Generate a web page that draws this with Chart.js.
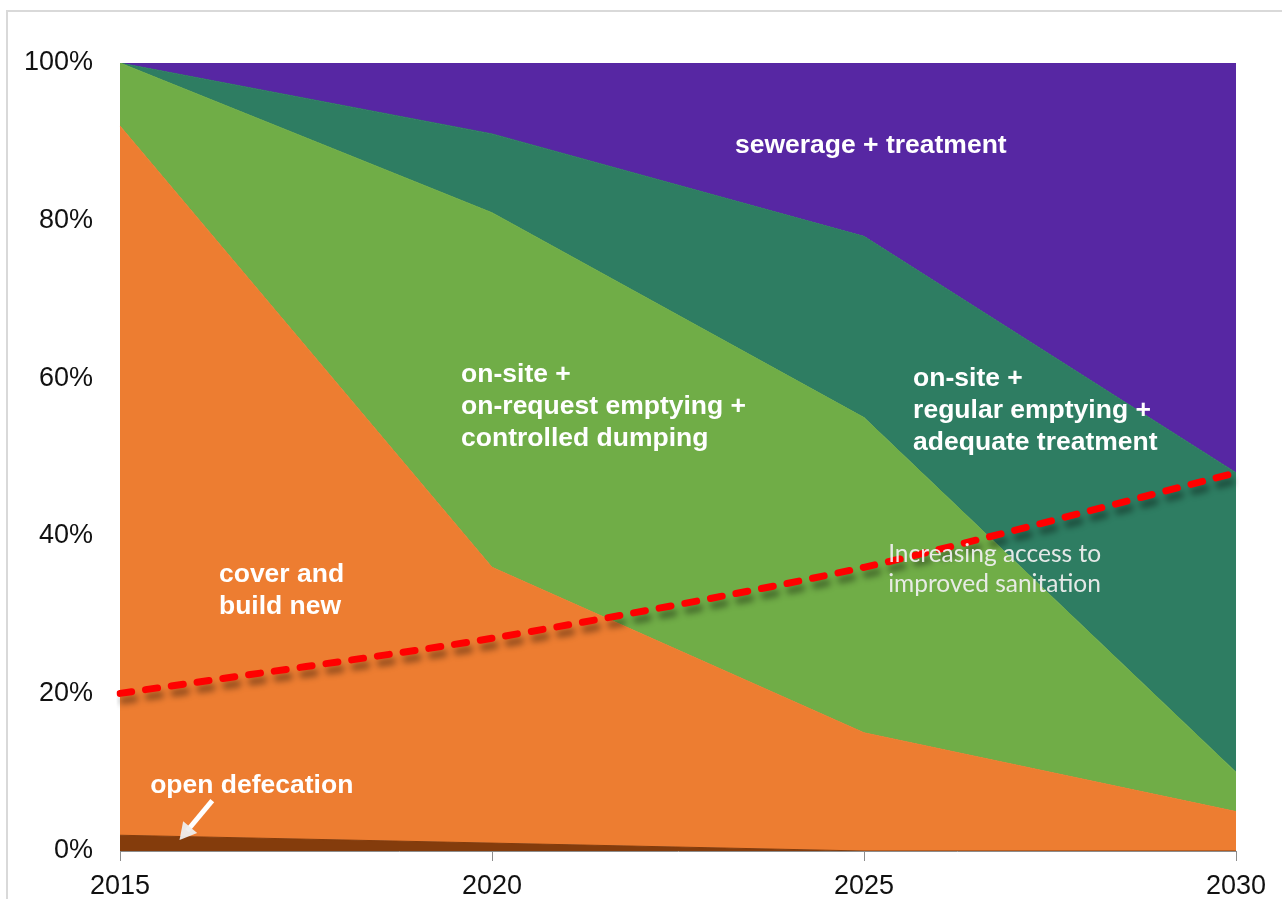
<!DOCTYPE html>
<html>
<head>
<meta charset="utf-8">
<script src="https://cdn.jsdelivr.net/npm/chart.js@4.4.1/dist/chart.umd.min.js"></script>
<style>
  body { margin: 0; background: #fff; overflow: hidden; }
  #wrap { position: relative; width: 1282px; height: 899px; }
  #frame { position: absolute; left: 6px; top: 10px; right: 0; bottom: 0;
           border-top: 2px solid #d9d9d9; border-left: 2px solid #d9d9d9; pointer-events: none; }
</style>
</head>
<body>
<div id="wrap">
  <canvas id="chart" width="1282" height="899"></canvas>
  <div id="frame"></div>
</div>
<script>
// years on the x axis
var years = ["2015", "2020", "2025", "2030"];

// share of each option per year (stacked, in %)
var openDefecation = [2, 1, 0, 0];
var coverBuildNew = [90, 35, 15, 5];
var onRequestEmptying = [8, 45, 40, 5];
var regularEmptying = [0, 10, 23, 38];
var sewerageTreatment = [0, 9, 22, 52];

// improved sanitation access trend (%)
var improvedAccess = [20, 27, 36, 48];

// y axis tick settings
var yTickStep = 20;
var yMax = 100;

// in-chart text, anchored in axis units (x = year index, y = %)
var areaLabels = [
  { lines: ["sewerage + treatment"], x: 1.653, y: 89.5 },
  { lines: ["on-site +", "on-request emptying +", "controlled dumping"], x: 0.917, y: 60.5 },
  { lines: ["on-site +", "regular emptying +", "adequate treatment"], x: 2.132, y: 59.9 },
  { lines: ["cover and", "build new"], x: 0.266, y: 35.1 },
  { lines: ["open defecation"], x: 0.081, y: 8.3 }
];
var trendLabel = { lines: ["Increasing access to", "improved sanitation"], x: 2.065, y: 37.7 };
var arrow = { fromX: 0.248, fromY: 6.4, toX: 0.16, toY: 1.4 };

// red dashed line gets a soft drop shadow
var shadowPlugin = {
  id: "lineShadow",
  beforeDatasetDraw: function (chart, args) {
    if (chart.data.datasets[args.index].stack === "trend") {
      var ctx = chart.ctx;
      ctx.save();
      ctx.shadowColor = "rgba(0,0,0,0.4)";
      ctx.shadowBlur = 6;
      ctx.shadowOffsetX = 3;
      ctx.shadowOffsetY = 7;
    }
  },
  afterDatasetDraw: function (chart, args) {
    if (chart.data.datasets[args.index].stack === "trend") {
      chart.ctx.restore();
    }
  }
};

// white area labels, the trend caption and the arrow
var textPlugin = {
  id: "areaText",
  afterDatasetsDraw: function (chart) {
    var ctx = chart.ctx;
    var xs = chart.scales.x;
    var ys = chart.scales.y;
    ctx.save();
    ctx.textBaseline = "middle";
    ctx.textAlign = "left";
    ctx.fillStyle = "#ffffff";
    ctx.font = "bold 26.5px 'Liberation Sans', Arial, sans-serif";
    areaLabels.forEach(function (lab) {
      var px = xs.getPixelForValue(lab.x);
      var py = ys.getPixelForValue(lab.y);
      lab.lines.forEach(function (line, i) {
        ctx.fillText(line, px, py + i * 32);
      });
    });

    ctx.font = "24.5px Lato, 'Open Sans', sans-serif";
    ctx.fillStyle = "rgba(238,238,238,0.95)";
    var tx = xs.getPixelForValue(trendLabel.x);
    var ty = ys.getPixelForValue(trendLabel.y);
    trendLabel.lines.forEach(function (line, i) {
      ctx.fillText(line, tx, ty + i * 30);
    });

    // arrow pointing at the open defecation band
    var x1 = xs.getPixelForValue(arrow.fromX), y1 = ys.getPixelForValue(arrow.fromY);
    var x2 = xs.getPixelForValue(arrow.toX), y2 = ys.getPixelForValue(arrow.toY);
    var ang = Math.atan2(y2 - y1, x2 - x1);
    ctx.strokeStyle = "#ffffff";
    ctx.lineWidth = 5;
    ctx.beginPath();
    ctx.moveTo(x1, y1);
    ctx.lineTo(x2 - 12 * Math.cos(ang), y2 - 12 * Math.sin(ang));
    ctx.stroke();
    ctx.beginPath();
    ctx.moveTo(x2, y2);
    ctx.lineTo(x2 - 19 * Math.cos(ang - 0.5), y2 - 19 * Math.sin(ang - 0.5));
    ctx.lineTo(x2 - 19 * Math.cos(ang + 0.5), y2 - 19 * Math.sin(ang + 0.5));
    ctx.closePath();
    ctx.fill();
    ctx.restore();
  }
};

function area(label, values, color, fill) {
  return {
    type: "line",
    label: label,
    data: values,
    backgroundColor: color,
    borderColor: color,
    borderWidth: 1,
    pointRadius: 0,
    fill: fill,
    tension: 0,
    stack: "areas",
    order: 1
  };
}

var ctx = document.getElementById("chart").getContext("2d");
var chart = new Chart(ctx, {
  type: "line",
  data: {
    labels: years,
    datasets: [
      area("open defecation", openDefecation, "#843c0c", "origin"),
      area("cover and build new", coverBuildNew, "#ed7d31", "-1"),
      area("on-site + on-request emptying + controlled dumping", onRequestEmptying, "#70ad47", "-1"),
      area("on-site + regular emptying + adequate treatment", regularEmptying, "#2e7d62", "-1"),
      area("sewerage + treatment", sewerageTreatment, "#5727a3", "-1"),
      {
        type: "line",
        label: "Increasing access to improved sanitation",
        data: improvedAccess,
        borderColor: "#ff0000",
        borderWidth: 7,
        borderDash: [12, 14],
        borderCapStyle: "round",
        pointRadius: 0,
        fill: false,
        tension: 0.25,
        stack: "trend",
        order: 0
      }
    ]
  },
  options: {
    responsive: false,
    animation: false,
    devicePixelRatio: 1,
    layout: { padding: { top: 63, right: 46, left: 0, bottom: 0 } },
    plugins: {
      legend: { display: false },
      tooltip: { enabled: false }
    },
    scales: {
      x: {
        offset: false,
        afterFit: function (scale) { scale.height = 48; },
        grid: { drawOnChartArea: false, drawTicks: true, tickLength: 10, color: "#8c8c8c" },
        border: { display: true, color: "#8c8c8c", width: 1 },
        ticks: {
          color: "#111",
          padding: 9,
          maxRotation: 0,
          font: { family: "'Liberation Sans', Arial, sans-serif", size: 27 }
        }
      },
      y: {
        stacked: true,
        min: 0,
        max: yMax,
        afterFit: function (scale) { scale.width = 120; },
        grid: { display: false },
        border: { display: false },
        ticks: {
          stepSize: yTickStep,
          color: "#111",
          padding: 19,
          font: { family: "'Liberation Sans', Arial, sans-serif", size: 27 },
          callback: function (v) { return v + "%"; }
        }
      }
    }
  },
  plugins: [shadowPlugin, textPlugin]
});
</script>
</body>
</html>
